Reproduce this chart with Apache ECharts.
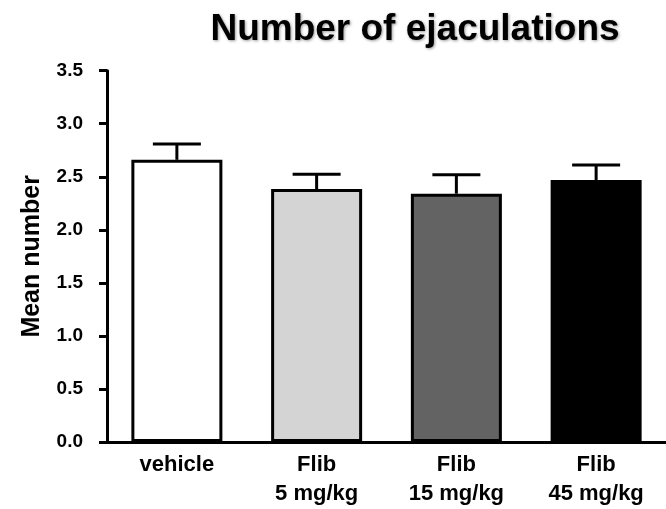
<!DOCTYPE html>
<html>
<head>
<meta charset="utf-8">
<script src="https://cdn.jsdelivr.net/npm/echarts@6/dist/echarts.min.js"></script>
<style>
  html, body { margin: 0; padding: 0; background: #fff; }
  #show { width: 666px; height: 509px; }
</style>
</head>
<body>
<div id="show"></div>
<script>
var myChart = echarts.init(document.getElementById("show"));

// groups on the x axis
var groups = ["vehicle", "Flib\n5 mg/kg", "Flib\n15 mg/kg", "Flib\n45 mg/kg"];
// mean number of ejaculations and the upper error (SEM)
var means = [2.66, 2.385, 2.34, 2.47];
var errors = [0.15, 0.14, 0.18, 0.14];
var fills = ["#ffffff", "#d4d4d4", "#636363", "#000000"];
var yTicks = [0, 0.5, 1, 1.5, 2, 2.5, 3, 3.5];

var font = "Liberation Sans";

myChart.setOption({
    animation: false,
    title: {
        text: "Number of ejaculations",
        left: 410,
        textAlign: "center",
        top: 6,
        textStyle: {
            fontFamily: font,
            fontSize: 37,
            fontWeight: "bold",
            color: "#000",
            textShadowColor: "rgba(0,0,0,0.4)",
            textShadowBlur: 3,
            textShadowOffsetX: 1,
            textShadowOffsetY: 1
        }
    },
    grid: {
        left: 107,
        right: 0,
        top: 70.7,
        bottom: 67
    },
    xAxis: {
        type: "category",
        data: groups,
        axisLine: { lineStyle: { color: "#000", width: 3 } },
        axisTick: { alignWithLabel: true, length: 6, lineStyle: { color: "#000", width: 3 } },
        axisLabel: {
            margin: 8,
            color: "#000",
            fontFamily: font,
            fontSize: 22,
            fontWeight: "bold",
            lineHeight: 29
        }
    },
    yAxis: {
        type: "value",
        min: yTicks[0],
        max: yTicks[yTicks.length - 1],
        interval: 0.5,
        name: "Mean number",
        nameLocation: "middle",
        nameGap: 62,
        nameTextStyle: {
            fontFamily: font,
            fontSize: 25,
            fontWeight: "bold",
            color: "#000"
        },
        splitLine: { show: false },
        axisLine: { show: true, lineStyle: { color: "#000", width: 3 } },
        axisTick: { show: true, length: 8, lineStyle: { color: "#000", width: 3 } },
        axisLabel: {
            margin: 24,
            color: "#000",
            fontFamily: font,
            fontSize: 19,
            fontWeight: "bold",
            formatter: function (v) { return v.toFixed(1); }
        }
    },
    series: [
        {
            type: "bar",
            barWidth: 91,
            data: means.map(function (m, i) {
                return {
                    value: m,
                    itemStyle: { color: fills[i], borderColor: "#000", borderWidth: 3 }
                };
            }),
            z: 2
        },
        {
            type: "custom",
            z: 3,
            data: means.map(function (m, i) { return [i, m, m + errors[i]]; }),
            renderItem: function (params, api) {
                var x = api.value(0);
                var base = api.coord([x, api.value(1)]);
                var top = api.coord([x, api.value(2)]);
                var half = 24;
                var style = { stroke: "#000", lineWidth: 3, fill: null };
                return {
                    type: "group",
                    children: [
                        { type: "line", shape: { x1: base[0], y1: base[1], x2: top[0], y2: top[1] }, style: style },
                        { type: "line", shape: { x1: top[0] - half, y1: top[1], x2: top[0] + half, y2: top[1] }, style: style }
                    ]
                };
            }
        }
    ]
});
</script>
</body>
</html>
